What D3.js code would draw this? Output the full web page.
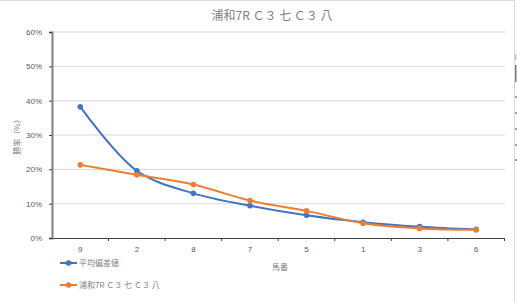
<!DOCTYPE html>
<html>
<head>
<meta charset="utf-8">
<script src="https://cdn.jsdelivr.net/npm/d3@7"></script>
<style>
	body { margin: 0; background: #fff; }
	svg { display: block; font-family: 'Noto Sans CJK JP', 'Noto Sans', sans-serif; }
</style>
</head>
<body>
<div id="chart"></div>
<script>
// horse numbers, in the order shown
const categories = ['9', '2', '8', '7', '5', '1', '3', '6']
// win rate (%) per horse
const avgDeviation = [38.2, 19.6, 13.0, 9.4, 6.6, 4.6, 3.3, 2.5]
const raceRate = [21.3, 18.4, 15.6, 10.9, 7.9, 4.3, 2.8, 2.4]
const yTicks = [0, 10, 20, 30, 40, 50, 60]

const seriesNames = ['平均偏差値', '浦和7R Ｃ３ 七 Ｃ３ 八']
const colors = ['#4472C4', '#ED7D31']
const title = '浦和7R Ｃ３ 七 Ｃ３ 八'

const width = 517
const height = 302
const margin = { top: 32, right: 12, bottom: 64, left: 52 }

const svg = d3.select('#chart').append('svg')
	.attr('width', width)
	.attr('height', height)

// outer frame (only the right/top edges are visible in the source)
svg.append('path')
	.attr('d', `M0,0.5H514.5V${height}`)
	.attr('fill', 'none')
	.attr('stroke', '#d9d9d9')

const x = d3.scaleBand()
	.domain(categories)
	.range([margin.left, width - margin.right - 0.5])

const y = d3.scaleLinear()
	.domain([0, 60])
	.range([height - margin.bottom, margin.top])

// gridlines
svg.append('g')
	.selectAll('line')
	.data(yTicks.filter(d => d > 0))
	.join('line')
	.attr('x1', margin.left)
	.attr('x2', width - margin.right)
	.attr('y1', d => y(d))
	.attr('y2', d => y(d))
	.attr('stroke', '#d9d9d9')

// y axis
const yAxis = svg.append('g')
	.attr('transform', `translate(${margin.left},0)`)
	.call(d3.axisLeft(y).tickValues(yTicks).tickFormat(d => d + '%').tickSize(3))
yAxis.select('.domain').attr('stroke', '#7f7f7f').attr('stroke-width', 2)
yAxis.selectAll('.tick line').attr('stroke', '#404040')
yAxis.selectAll('.tick text')
	.attr('x', -10)
	.attr('fill', '#595959')
	.style('font-size', '8px')

// x axis
const xAxis = svg.append('g')
	.attr('transform', `translate(0,${height - margin.bottom})`)
	.call(d3.axisBottom(x).tickSize(0).tickPadding(8))
xAxis.select('.domain').attr('stroke', '#404040').attr('stroke-width', 1.2)
xAxis.selectAll('.tick text')
	.attr('fill', '#595959')
	.style('font-size', '8px')
// category boundary ticks
xAxis.append('g')
	.selectAll('line')
	.data(categories)
	.join('line')
	.attr('x1', d => x(d) + x.bandwidth())
	.attr('x2', d => x(d) + x.bandwidth())
	.attr('y1', 0)
	.attr('y2', 3)
	.attr('stroke', '#404040')

// axis titles
svg.append('text')
	.attr('x', 280)
	.attr('y', 270)
	.attr('text-anchor', 'middle')
	.attr('fill', '#7f7f7f')
	.style('font-size', '8px')
	.text('馬番')

svg.append('text')
	.attr('transform', `translate(20,${(y(0) + y(60)) / 2}) rotate(-90)`)
	.attr('text-anchor', 'middle')
	.attr('fill', '#7f7f7f')
	.style('font-size', '8px')
	.text('勝率（%）')

// chart title
svg.append('text')
	.attr('x', 272)
	.attr('y', 20)
	.attr('text-anchor', 'middle')
	.attr('fill', '#7f7f7f')
	.style('font-size', '12px')
	.text(title)

// series
const cx = d => x(d) + x.bandwidth() / 2
const line = d3.line()
	.x(d => cx(d[0]))
	.y(d => y(d[1]))
	.curve(d3.curveCatmullRom.alpha(0.5))

const series = [avgDeviation, raceRate]
series.forEach((vals, i) => {
	const pts = categories.map((c, j) => [c, vals[j]])
	const g = svg.append('g')
	g.append('path')
		.datum(pts)
		.attr('d', line)
		.attr('fill', 'none')
		.attr('stroke', colors[i])
		.attr('stroke-width', 2)
	g.selectAll('circle')
		.data(pts)
		.join('circle')
		.attr('cx', d => cx(d[0]))
		.attr('cy', d => y(d[1]))
		.attr('r', 2.8)
		.attr('fill', colors[i])
})

// legend
const legend = svg.append('g')
	.selectAll('g')
	.data(seriesNames)
	.join('g')
	.attr('transform', (d, i) => `translate(60,${263 + i * 22})`)
legend.append('line')
	.attr('x1', 0)
	.attr('x2', 17)
	.attr('stroke', (d, i) => colors[i])
	.attr('stroke-width', 2)
legend.append('circle')
	.attr('cx', 8.5)
	.attr('r', 2.8)
	.attr('fill', (d, i) => colors[i])
legend.append('text')
	.attr('x', 19)
	.attr('dy', '0.35em')
	.attr('fill', '#7f7f7f')
	.style('font-size', '8px')
	.text(d => d)

// bits of a neighbouring chart peeking in at the right edge
const edge = svg.append('g')
edge.append('rect').attr('x', 515).attr('y', 54).attr('width', 1.5).attr('height', 6).attr('fill', '#bfbfbf')
edge.append('rect').attr('x', 515).attr('y', 65).attr('width', 1.5).attr('height', 17).attr('fill', '#7f7f7f')
edge.selectAll('line.tk')
	.data([97, 113, 129, 145, 160])
	.join('line')
	.attr('x1', 515)
	.attr('x2', 517)
	.attr('y1', d => d)
	.attr('y2', d => d)
	.attr('stroke', '#404040')
</script>
</body>
</html>
